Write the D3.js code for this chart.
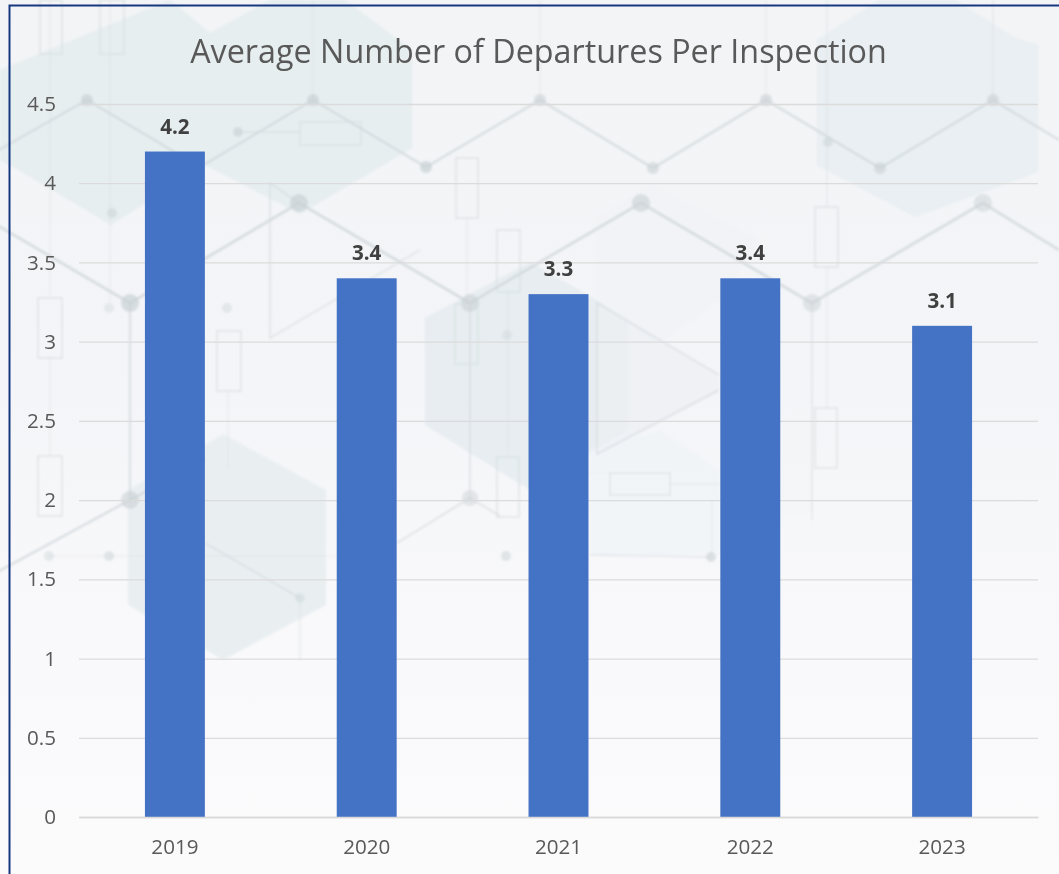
<!DOCTYPE html>
<html><head><meta charset="utf-8">
<script src="https://cdnjs.cloudflare.com/ajax/libs/d3/7.8.5/d3.min.js"></script>
<style>html,body{margin:0;padding:0;background:#fff}svg{display:block}</style>
</head><body><svg id="c" width="1059" height="874"></svg>
<script>
const chartTitle = "Average Number of Departures Per Inspection";
const years = ["2019","2020","2021","2022","2023"];
const averages = [4.2,3.4,3.3,3.4,3.1];
const yTicks = [0,0.5,1,1.5,2,2.5,3,3.5,4,4.5];

const svg = d3.select("#c");
const font = "'Open Sans','Noto Sans',sans-serif";
const defs = svg.append("defs");
const grad = defs.append("linearGradient").attr("id","bg").attr("x1",0).attr("x2",0).attr("y1",0).attr("y2",1);
grad.append("stop").attr("offset",0).attr("stop-color","#f2f4f6");
grad.append("stop").attr("offset",0.45).attr("stop-color","#f4f5f8");
grad.append("stop").attr("offset",0.72).attr("stop-color","#f9f9fb");
grad.append("stop").attr("offset",1).attr("stop-color","#fbfbfc");
defs.append("filter").attr("id","soft").append("feGaussianBlur").attr("stdDeviation",1.3);
svg.append("rect").attr("width",1059).attr("height",874).attr("fill","url(#bg)");

// decorative backdrop
const deco = svg.append("g").attr("filter","url(#soft)");
const hexes = [
 {p:[[0,70],[170,0],[210,33],[270,0],[345,0],[412,50],[412,148],[300,214],[205,165],[111,225],[15,168],[0,160]],c:"#e6edef",o:.95},
 {p:[[817,40],[880,0],[955,0],[1015,38],[1038,45],[1038,172],[915,217],[817,165]],c:"#e8eef1",o:.95},
 {p:[[425,318],[530,262],[628,318],[628,430],[530,490],[425,425]],c:"#e5ecef",o:.9},
 {p:[[597,215],[653,185],[730,225],[760,240],[720,300],[655,345],[597,300]],c:"#f0f3f5",o:.8},
 {p:[[128,490],[223,434],[326,490],[326,605],[223,660],[128,605]],c:"#e8eef0",o:.95},
 {p:[[597,303],[719,375],[719,390],[597,454]],c:"#ecf0f3",o:.7},
 {p:[[590,450],[660,430],[720,470],[720,555],[590,555]],c:"#f0f3f6",o:.7},
 {p:[[745,450],[812,400],[812,510],[745,525]],c:"#f3f5f7",o:.7}
];
const line = d3.line();
deco.selectAll("path.hex").data(hexes).join("path").attr("class","hex")
  .attr("d",d=>line(d.p)+"Z").attr("fill",d=>d.c).attr("opacity",d=>d.o);
const wires = [
 {p:[[-10,155],[87,100],[200,167],[313,100],[426,167],[540,100],[653,168],[766,100],[880,168],[993,100],[1059,140]],o:.85,w:2},
 {p:[[-10,221],[130,303],[299,203],[470,303],[641,203],[812,303],[983,203],[1059,250]],o:.85,w:2.4},
 {p:[[-10,576],[130,500],[205,460]],o:.75,w:2.4},
 {p:[[397,543],[470,498],[500,516]],o:.55,w:2},
 {p:[[205,543],[300,598]],o:.55,w:2},
 {p:[[270,183],[299,203]],o:.5,w:2},
 {p:[[420,250],[270,338],[270,183]],o:.45,w:2},
 {p:[[719,375],[597,303],[597,454],[719,390]],o:.5,w:2},
 {p:[[130,303],[130,500]],o:.6,w:2.4},
 {p:[[470,303],[470,500]],o:.5,w:2},
 {p:[[812,303],[812,520]],o:.4,w:2},
 {p:[[300,598],[300,660]],o:.3,w:2},
 {p:[[49,556],[340,556]],o:.3,w:1.5},
 {p:[[590,555],[711,557]],o:.5,w:1.5},
 {p:[[712,500],[712,557]],o:.3,w:1.5},
 {p:[[235,132],[300,132]],o:.5,w:1.5},
 {p:[[50,0],[50,296]],o:.3,w:1.5},
 {p:[[50,356],[50,455]],o:.3,w:1.5},
 {p:[[110,0],[110,303]],o:.3,w:1.5},
 {p:[[228,392],[228,470]],o:.3,w:1.5},
 {p:[[467,218],[467,304]],o:.3,w:1.5},
 {p:[[508,290],[508,458]],o:.3,w:1.5},
 {p:[[827,0],[827,207]],o:.35,w:1.5},
 {p:[[827,268],[827,408]],o:.3,w:1.5},
 {p:[[313,0],[313,100]],o:.3,w:1.5},
 {p:[[993,0],[993,100]],o:.4,w:1.5},
 {p:[[766,0],[766,100]],o:.3,w:1.5},
 {p:[[540,0],[540,100]],o:.3,w:1.5},
 {p:[[540,473],[610,473]],o:.2,w:1.5},
 {p:[[670,484],[720,484]],o:.4,w:1.5}
];
deco.selectAll("path.wire").data(wires).join("path").attr("class","wire")
  .attr("d",d=>line(d.p)).attr("fill","none").attr("stroke","#cfd6d9").attr("stroke-width",d=>d.w).attr("opacity",d=>d.o);
const nodes = [
 [87,100,6,.7],[313,100,6,.7],[540,100,6,.6],[766,100,6,.6],[993,100,6,.6],[426,167,6,.7],[653,168,6,.6],[880,168,6,.6],
 [130,303,9,.7],[299,203,9,.7],[470,303,9,.6],[641,203,9,.6],[812,303,9,.5],[983,203,9,.5],[130,500,9,.6],[470,498,8,.45],
 [238,132,5,.6],[112,213,5,.5],[300,598,5,.4],[49,556,5,.4],[109,556,5,.5],[506,556,5,.5],[711,557,5,.6],[109,308,5,.35],[227,308,5,.4],[507,335,5,.35],[828,142,5,.5]
];
deco.selectAll("circle").data(nodes).join("circle").attr("cx",d=>d[0]).attr("cy",d=>d[1]).attr("r",d=>d[2]).attr("fill","#c9d1d4").attr("opacity",d=>d[3]);
const comps = [[40,0,22,54],[100,0,24,54],[300,122,61,23],[456,158,22,60],[497,230,23,62],[455,304,23,60],[217,331,24,60],[38,298,24,60],[38,456,24,60],[497,457,22,60],[610,473,60,22],[815,207,23,60],[815,408,22,60]];
deco.selectAll("rect").data(comps).join("rect").attr("x",d=>d[0]).attr("y",d=>d[1]).attr("width",d=>d[2]).attr("height",d=>d[3])
  .attr("fill","none").attr("stroke","#d3dadd").attr("stroke-width",1.8).attr("opacity",.55);

// chart frame
svg.append("path").attr("d","M9.5,874V5.5H1059").attr("fill","none").attr("stroke","#17387f").attr("stroke-width",2);

const x = d3.scaleBand().domain(years).range([79,1038]).paddingInner(0.6875).paddingOuter(0.34375);
const y = d3.scaleLinear().domain([0,4.5]).range([817,104]);

svg.append("text").attr("x",538.5).attr("y",62.5).attr("text-anchor","middle")
  .attr("font-family",font).attr("font-size",32.3).attr("fill","#595959").text(chartTitle);

const yAxis = svg.append("g").attr("transform","translate(79,0)")
  .call(d3.axisLeft(y).tickValues(yTicks).tickSize(-959).tickPadding(23).tickFormat(d=>String(d)));
yAxis.select(".domain").remove();
yAxis.selectAll("line").attr("stroke","#dbdbdb").attr("stroke-width",1.3);
yAxis.selectAll("text").attr("font-family",font).attr("font-size",20.6).attr("fill","#595959");

svg.selectAll("rect.bar").data(years).join("rect").attr("class","bar")
  .attr("x",d=>x(d)).attr("width",x.bandwidth())
  .attr("y",(d,i)=>y(averages[i])).attr("height",(d,i)=>y(0)-y(averages[i]))
  .attr("fill","#4472c4");

const xAxis = svg.append("g").attr("transform","translate(0,817)")
  .call(d3.axisBottom(x).tickSize(0).tickPadding(22));
xAxis.select(".domain").attr("stroke","#d9d9d9").attr("stroke-width",1.6);
xAxis.selectAll("text").attr("font-family",font).attr("font-size",20.6).attr("fill","#595959");

svg.selectAll("text.lab").data(years).join("text").attr("class","lab")
  .attr("x",d=>x(d)+x.bandwidth()/2).attr("y",(d,i)=>y(averages[i])-18)
  .attr("text-anchor","middle").attr("font-family",font).attr("font-weight",700)
  .attr("font-size",20.6).attr("fill","#404040").text((d,i)=>averages[i].toFixed(1));
</script></body></html>
